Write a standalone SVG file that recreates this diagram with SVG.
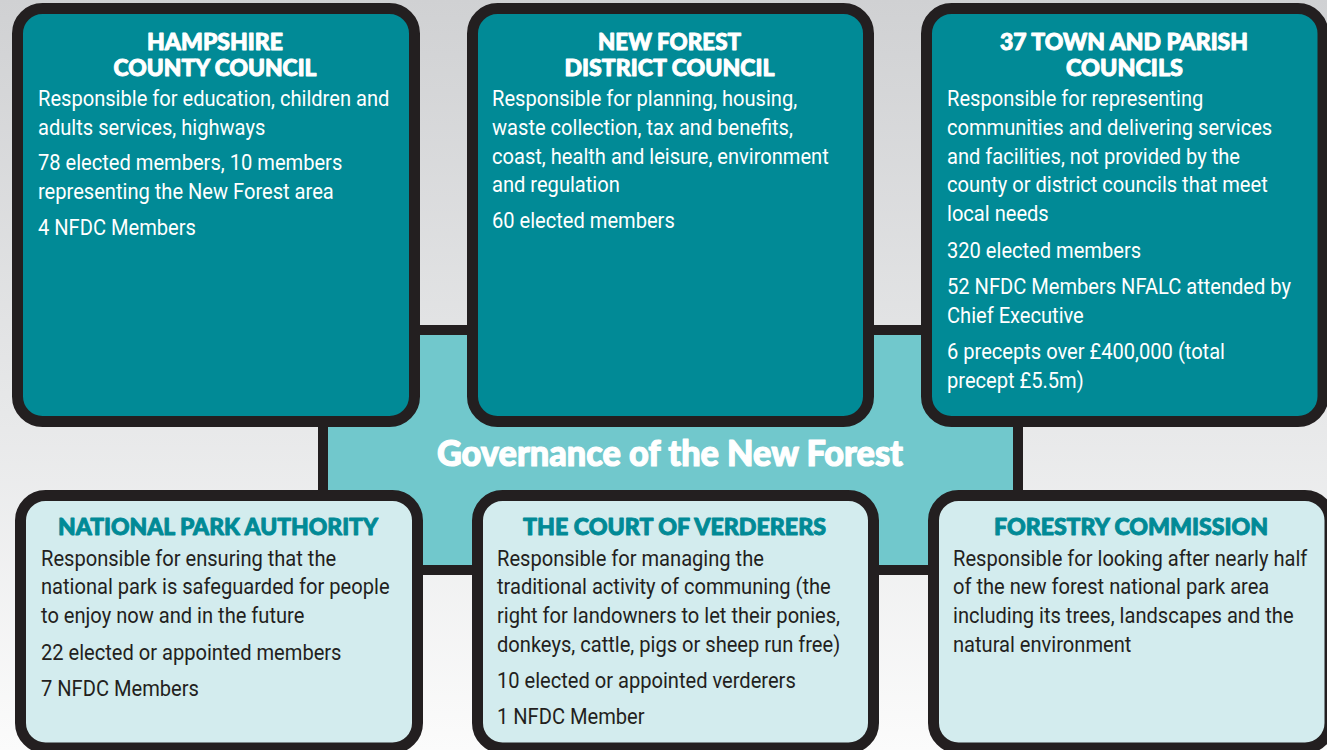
<svg xmlns="http://www.w3.org/2000/svg" width="1327" height="750" viewBox="0 0 1327 750">
<defs>
<linearGradient id="bg" x1="0" y1="0" x2="0" y2="1">
<stop offset="0" stop-color="#d0d1d3"/>
<stop offset="0.55" stop-color="#e7e8e9"/>
<stop offset="1" stop-color="#fbfbfb"/>
</linearGradient>
<style>
.dark{fill:#018a96;stroke:#231f20;stroke-width:11}
.light{fill:#d3ecee;stroke:#231f20;stroke-width:11}
.hub{fill:#71c8cc;stroke:#231f20;stroke-width:10}
.hd{font-family:Lato,Roboto,"Liberation Sans",sans-serif;font-weight:900;font-size:22px;text-anchor:middle;stroke-width:0.9;stroke-linejoin:round}
.hdw{fill:#ffffff;stroke:#ffffff}
.hdt{fill:#018a96;stroke:#018a96}
.bd{font-family:Roboto,"Liberation Sans",sans-serif;font-size:21.5px}
.bw{fill:#ffffff}
.bk{fill:#231f20}
.title{font-family:Lato,Roboto,"Liberation Sans",sans-serif;font-weight:900;font-size:36px;fill:#ffffff;stroke:#ffffff;stroke-width:1.2;stroke-linejoin:round;text-anchor:middle}
</style>
</defs>
<rect x="0" y="0" width="1327" height="750" fill="url(#bg)"/>

<g id="hub">
<rect class="hub" x="323" y="330" width="695" height="240" rx="30"/>
<text class="title" x="670" y="466" textLength="466" lengthAdjust="spacingAndGlyphs">Governance of the New Forest</text>
</g>

<g id="hampshire-county-council">
<rect class="dark" x="17.5" y="8.5" width="397" height="413" rx="25"/>
<text class="hd hdw" x="215" y="50" textLength="136" lengthAdjust="spacingAndGlyphs">HAMPSHIRE</text>
<text class="hd hdw" x="215" y="76" textLength="203" lengthAdjust="spacingAndGlyphs">COUNTY COUNCIL</text>
<g transform="translate(38 0) scale(0.935 1)">
<text class="bd bw" x="0" y="106">Responsible for education, children and</text>
<text class="bd bw" x="0" y="135">adults services, highways</text>
<text class="bd bw" x="0" y="170">78 elected members, 10 members</text>
<text class="bd bw" x="0" y="199">representing the New Forest area</text>
<text class="bd bw" x="0" y="235">4 NFDC Members</text>
</g>
</g>

<g id="new-forest-district-council">
<rect class="dark" x="472.5" y="8.5" width="396" height="413" rx="25"/>
<text class="hd hdw" x="669.5" y="50" textLength="143" lengthAdjust="spacingAndGlyphs">NEW FOREST</text>
<text class="hd hdw" x="669.5" y="76" textLength="210" lengthAdjust="spacingAndGlyphs">DISTRICT COUNCIL</text>
<g transform="translate(492 0) scale(0.935 1)">
<text class="bd bw" x="0" y="106">Responsible for planning, housing,</text>
<text class="bd bw" x="0" y="135">waste collection, tax and benefits,</text>
<text class="bd bw" x="0" y="164">coast, health and leisure, environment</text>
<text class="bd bw" x="0" y="192">and regulation</text>
<text class="bd bw" x="0" y="228">60 elected members</text>
</g>
</g>

<g id="town-and-parish-councils">
<rect class="dark" x="926.5" y="8.5" width="396.5" height="413" rx="25"/>
<text class="hd hdw" x="1124" y="50" textLength="248" lengthAdjust="spacingAndGlyphs">37 TOWN AND PARISH</text>
<text class="hd hdw" x="1124.5" y="76" textLength="117" lengthAdjust="spacingAndGlyphs">COUNCILS</text>
<g transform="translate(947 0) scale(0.935 1)">
<text class="bd bw" x="0" y="106">Responsible for representing</text>
<text class="bd bw" x="0" y="135">communities and delivering services</text>
<text class="bd bw" x="0" y="164">and facilities, not provided by the</text>
<text class="bd bw" x="0" y="192">county or district councils that meet</text>
<text class="bd bw" x="0" y="221">local needs</text>
<text class="bd bw" x="0" y="258">320 elected members</text>
<text class="bd bw" x="0" y="294">52 NFDC Members NFALC attended by</text>
<text class="bd bw" x="0" y="323">Chief Executive</text>
<text class="bd bw" x="0" y="359">6 precepts over £400,000 (total</text>
<text class="bd bw" x="0" y="388">precept £5.5m)</text>
</g>
</g>

<g id="national-park-authority">
<rect class="light" x="20.5" y="495.5" width="397" height="252.5" rx="25"/>
<text class="hd hdt" x="218" y="535" textLength="320" lengthAdjust="spacingAndGlyphs">NATIONAL PARK AUTHORITY</text>
<g transform="translate(41 0) scale(0.935 1)">
<text class="bd bk" x="0" y="566">Responsible for ensuring that the</text>
<text class="bd bk" x="0" y="594">national park is safeguarded for people</text>
<text class="bd bk" x="0" y="623">to enjoy now and in the future</text>
<text class="bd bk" x="0" y="660">22 elected or appointed members</text>
<text class="bd bk" x="0" y="696">7 NFDC Members</text>
</g>
</g>

<g id="court-of-verderers">
<rect class="light" x="477.5" y="495.5" width="396" height="252.5" rx="25"/>
<text class="hd hdt" x="674.5" y="535" textLength="303" lengthAdjust="spacingAndGlyphs">THE COURT OF VERDERERS</text>
<g transform="translate(497 0) scale(0.935 1)">
<text class="bd bk" x="0" y="566">Responsible for managing the</text>
<text class="bd bk" x="0" y="594">traditional activity of communing (the</text>
<text class="bd bk" x="0" y="623">right for landowners to let their ponies,</text>
<text class="bd bk" x="0" y="652">donkeys, cattle, pigs or sheep run free)</text>
<text class="bd bk" x="0" y="688">10 elected or appointed verderers</text>
<text class="bd bk" x="0" y="724">1 NFDC Member</text>
</g>
</g>

<g id="forestry-commission">
<rect class="light" x="933.5" y="495.5" width="396.5" height="252.5" rx="25"/>
<text class="hd hdt" x="1131" y="535" textLength="274" lengthAdjust="spacingAndGlyphs">FORESTRY COMMISSION</text>
<g transform="translate(953 0) scale(0.935 1)">
<text class="bd bk" x="0" y="566">Responsible for looking after nearly half</text>
<text class="bd bk" x="0" y="594">of the new forest national park area</text>
<text class="bd bk" x="0" y="623">including its trees, landscapes and the</text>
<text class="bd bk" x="0" y="652">natural environment</text>
</g>
</g>
</svg>
